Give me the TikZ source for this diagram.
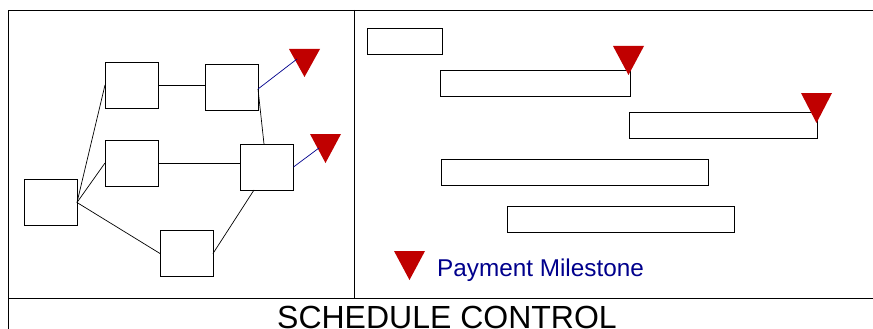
\documentclass[tikz,border=0pt]{standalone}
\usepackage{fontspec}
\setmainfont{Liberation Sans}
\definecolor{msred}{RGB}{192,0,0}
\definecolor{msnavy}{RGB}{0,0,140}
\begin{document}
\begin{tikzpicture}[x=1pt,y=-1pt,
  frame/.style={draw=black,line width=0.8pt},
  netbox/.style={draw=black,line width=0.8pt,minimum width=53pt,minimum height=46pt,inner sep=0pt,outer sep=0pt},
  bar/.style={draw=black,line width=0.8pt,minimum height=26pt,inner sep=0pt,outer sep=0pt,anchor=north west},
  link/.style={draw=black,line width=0.7pt},
  bluelink/.style={draw=msnavy,line width=0.7pt},
  tri/.style={fill=msred}]
\useasboundingbox (0,0) rectangle (873,329);
% frame
\draw[frame] (8,329) -- (8,10) -- (873,10);
\draw[frame] (354,10) -- (354,298);
\draw[frame] (8,298) -- (873,298);
% network boxes
\node[netbox] (A) at (50.5,202.5) {};
\node[netbox] (B) at (131.5,85) {};
\node[netbox] (C) at (131.5,163) {};
\node[netbox] (D) at (231.5,87) {};
\node[netbox] (E) at (267,167) {};
\node[netbox] (F) at (186.5,253.5) {};
% milestone triangles (network)
\fill[tri] (289,49) -- (320,49) -- (304.5,77) -- cycle;
\coordinate (m1) at (297,59);
\fill[tri] (310,134) -- (341,134) -- (325.5,163) -- cycle;
\coordinate (m2) at (319,148);
% connectors
\draw[link] (A.east) -- (B.west);
\draw[link] (A.east) -- (C.west);
\draw[link] (A.east) -- (F.west);
\draw[link] (B.east) -- (B.east -| D.west);
\draw[link] (C.east) -- (C.east -| E.west);
\draw[link] ([yshift=-2pt]D.east) -- ([xshift=-3pt]E.north);
\draw[link] (F.east) -- ([xshift=-13pt]E.south);
\draw[bluelink] ([yshift=-2pt]D.east) -- (m1);
\draw[bluelink] (E.east) -- (m2);
% gantt bars
\node[bar,minimum width=75pt] (g1) at (367,28) {};
\node[bar,minimum width=190pt] (g2) at (440,70) {};
\node[bar,minimum width=188pt] (g3) at (629,112) {};
\node[bar,minimum width=267pt] (g4) at (441,159) {};
\node[bar,minimum width=227pt] (g5) at (507,206) {};
\fill[tri] (613,46) -- (644,46) -- (628.5,75) -- cycle;
\fill[tri] (801,93) -- (832,93) -- (816.5,123) -- cycle;
% legend
\fill[tri] (394,251) -- (425,251) -- (409.5,280) -- cycle;
\node[anchor=base west,inner sep=0pt,text=msnavy,font=\fontsize{24.3pt}{28pt}\selectfont] (leg) at (437,276) {Payment Milestone};
% title
\node[anchor=base,inner sep=0pt,font=\fontsize{32pt}{36pt}\selectfont] (title) at (447,328) {SCHEDULE CONTROL};
\end{tikzpicture}
\end{document}
